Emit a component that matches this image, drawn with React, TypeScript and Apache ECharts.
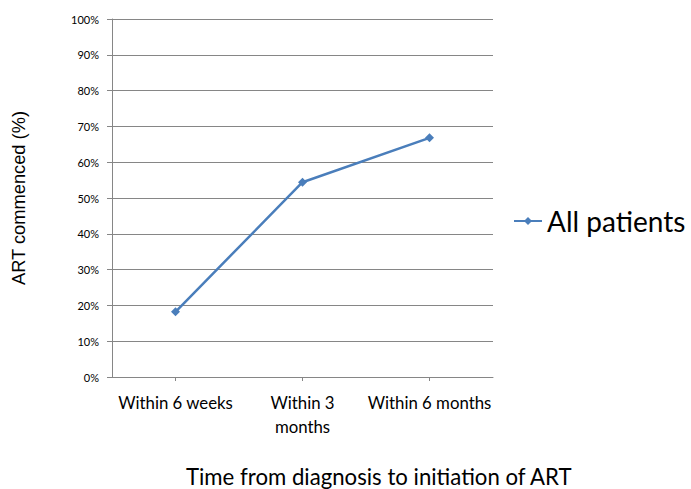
import React, { useEffect, useRef } from "react";
import * as echarts from "echarts";

const categories = ["Within 6 weeks", "Within 3 months", "Within 6 months"];
const allPatients = [18.2, 54.4, 66.8];
const yTicks = [0, 10, 20, 30, 40, 50, 60, 70, 80, 90, 100];
const xTitle = "Time from diagnosis to initiation of ART";
const yTitle = "ART commenced (%)";

export default function App() {
  const ref = useRef<HTMLDivElement>(null);
  useEffect(() => {
    if (!ref.current) return;
    const chart = echarts.init(ref.current, undefined, { renderer: "svg" });
    const font = "Lato, 'Open Sans', sans-serif";
    chart.setOption({
      animation: false,
      backgroundColor: "#ffffff",
      grid: { left: 112, right: 198, top: 19, bottom: 112 },
      legend: {
        data: ["All patients"],
        left: 513,
        top: 207,
        padding: 0,
        orient: "vertical",
        itemWidth: 28,
        itemHeight: 10,
        itemGap: 4,
        textStyle: { fontSize: 28, color: "#000", fontFamily: font },
      },
      graphic: [
        {
          type: "text",
          left: 186,
          top: 465,
          style: { text: xTitle, fontSize: 22.2, fill: "#000", fontFamily: font },
        },
      ],
      xAxis: {
        type: "category",
        data: categories,
        boundaryGap: true,
        axisLine: { lineStyle: { color: "#868686", width: 1 } },
        axisTick: { show: true, alignWithLabel: true, length: 4, lineStyle: { color: "#868686" } },
        axisLabel: {
          interval: 0,
          margin: 13,
          fontSize: 16.8,
          lineHeight: 24,
          color: "#000",
          fontFamily: font,
          formatter: (v: string) => (v === "Within 3 months" ? "Within 3\nmonths" : v),
        },
      },
      yAxis: {
        type: "value",
        min: 0,
        max: 100,
        interval: 10,
        axisLine: { show: true, lineStyle: { color: "#868686", width: 1 } },
        axisTick: { show: true, length: 5, lineStyle: { color: "#868686" } },
        splitLine: { show: true, lineStyle: { color: "#868686", width: 1 } },
        axisLabel: {
          margin: 13,
          fontSize: 11,
          color: "#000",
          fontFamily: font,
          customValues: yTicks,
          formatter: (v: number) => `${v}%`,
        },
        name: yTitle,
        nameLocation: "middle",
        nameGap: 85,
        nameTextStyle: { fontSize: 18.3, color: "#000", fontFamily: "'Liberation Sans', Arial, sans-serif" },
      },
      series: [
        {
          name: "All patients",
          type: "line",
          data: allPatients,
          symbol: "diamond",
          symbolSize: 9,
          lineStyle: { color: "#4a7ebb", width: 2.5 },
          itemStyle: { color: "#4a7ebb" },
        },
      ],
    });
    return () => chart.dispose();
  }, []);
  return <div ref={ref} style={{ width: 691, height: 489, position: "absolute", left: 0, top: 0 }} />;
}
